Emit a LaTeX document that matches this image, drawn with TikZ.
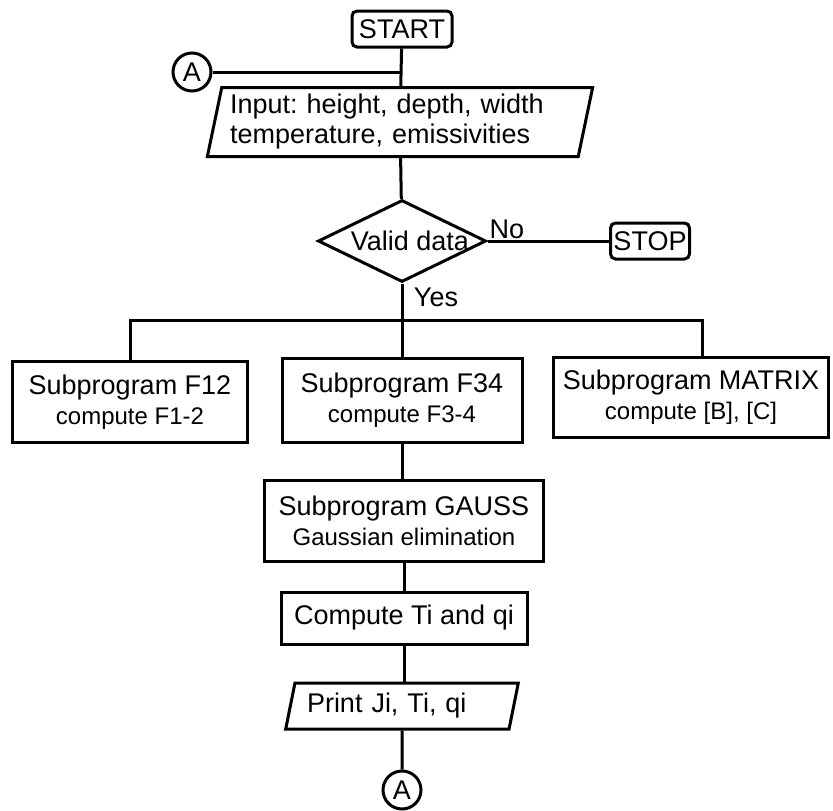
\documentclass[tikz,border=0pt]{standalone}
\usepackage{fontspec}
\setmainfont{Liberation Sans}
\usetikzlibrary{shapes.geometric}
\newcommand{\secondline}{\fontsize{24}{30}\selectfont}
\frenchspacing

\begin{document}
\begin{tikzpicture}[
            x=1pt, y=-1pt, line width=3pt,
            every node/.style={font=\fontsize{27}{30}\selectfont, inner sep=0pt},
            term/.style={draw, rounded corners=5pt, minimum width=#1, minimum height=36pt},
            box/.style={draw, align=center, minimum width=#1},
            io/.style={draw, trapezium, trapezium left angle=#1, trapezium right angle=180-#1,
                       trapezium stretches=true},
            conn/.style={draw, circle, minimum size=38pt},
            decision/.style={draw, diamond, minimum width=168pt, minimum height=82pt}
            ]
            \useasboundingbox (0,0) rectangle (833,811);
            \node[term=100pt] (start) at (402,29) {START};
            \node[conn] (atop) at (192,72) {A};
            \node[io=76, minimum width=386pt, minimum height=69pt, text width=340pt, align=left]
                (input) at (400,122) {Input: height, depth, width\\temperature, emissivities};
            \node[decision, label={[xshift=8pt]center:Valid data}] (valid) at (402,241) {};
            \node (no) at (507,229) {No};
            \node[term=79pt] (stop) at (650,241) {STOP};
            \node (yes) at (436,297) {Yes};
            \coordinate (bus) at (402,320);
            \node[box=235pt, minimum height=81pt] (f12) at (130,402)
                {Subprogram F12\\{\secondline compute F1-2}};
            \node[box=240pt, minimum height=84pt] (f34) at (402,400)
                {Subprogram F34\\{\secondline compute F3-4}};
            \node[box=275pt, minimum height=80pt] (matrix) at (691,397)
                {Subprogram MATRIX\\{\secondline compute [B], [C]}};
            \node[box=279pt, minimum height=81pt] (gauss) at (404,521)
                {Subprogram GAUSS\\{\secondline Gaussian elimination}};
            \node[box=246pt, minimum height=52pt] (comp) at (404,618) {Compute Ti and qi};
            \node[io=72, minimum width=233pt, minimum height=46pt, text width=190pt, align=left]
                (print) at (402,706) {Print Ji, Ti, qi};
            \node[conn] (abot) at (402,790) {A};
            \draw (start) -- (input);
            \draw (atop) -- (atop -| start);
            \draw (input) -- (valid);
            \draw (valid) -- (stop);
            \draw (valid) -- (f34);
            \draw (f12) |- (bus) -| ([xshift=11pt]matrix.north);
            \draw (f34) -- (f34 |- gauss.north);
            \draw (gauss) -- (comp);
            \draw (comp) -- (comp |- print.north);
            \draw (print) -- (abot);
        \end{tikzpicture}
\end{document}
